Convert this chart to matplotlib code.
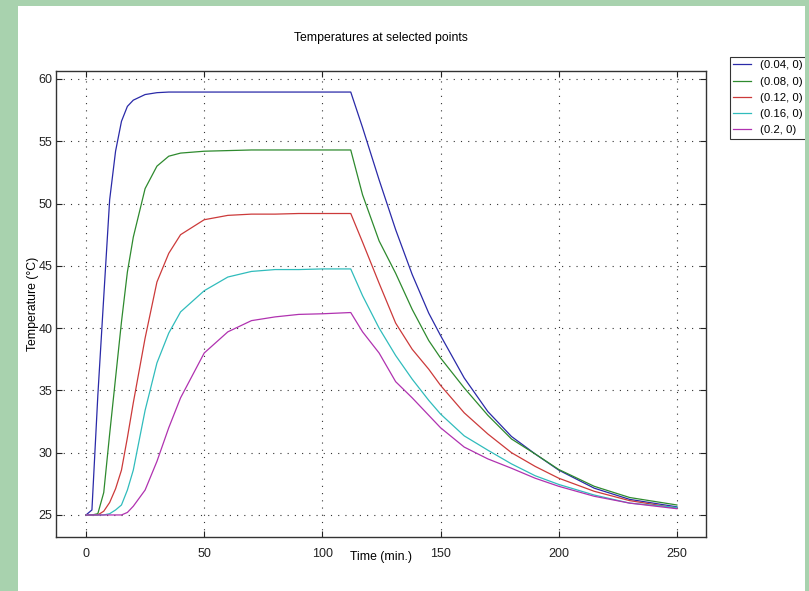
import matplotlib.pyplot as plt
from matplotlib.patches import Rectangle

# time (min.)
t = [0, 2.5, 5, 7.5, 10, 12.5, 15, 17.5, 20, 25, 30, 35, 40, 50, 60, 70, 80, 90,
     100, 112, 117, 124, 131, 138, 145, 150, 160, 170, 180, 190, 200, 215, 230, 250]

T_004 = [25.0, 25.4, 34.6, 42.5, 50.3, 54.2, 56.6, 57.8, 58.3, 58.75, 58.9, 58.95, 58.95,
         58.95, 58.95, 58.95, 58.95, 58.95, 58.95, 58.95, 56.1, 51.9, 47.9, 44.3, 41.2,
         39.4, 36.0, 33.3, 31.3, 29.9, 28.6, 27.15, 26.25, 25.65]
T_008 = [25.0, 25.0, 25.1, 26.8, 31.5, 36.0, 40.5, 44.5, 47.3, 51.2, 53.0, 53.8, 54.05,
         54.2, 54.25, 54.3, 54.3, 54.3, 54.3, 54.3, 50.7, 47.0, 44.4, 41.5, 39.0,
         37.6, 35.2, 33.0, 31.1, 29.9, 28.65, 27.3, 26.4, 25.8]
T_012 = [25.0, 25.0, 25.0, 25.3, 26.0, 27.1, 28.6, 31.2, 34.0, 39.2, 43.7, 46.0, 47.5,
         48.7, 49.05, 49.15, 49.15, 49.2, 49.2, 49.2, 46.9, 43.6, 40.4, 38.3, 36.7,
         35.4, 33.2, 31.5, 30.0, 28.9, 27.95, 26.9, 26.15, 25.55]
T_016 = [25.0, 25.0, 25.0, 25.0, 25.1, 25.4, 25.8, 27.0, 28.6, 33.4, 37.2, 39.6, 41.3,
         43.0, 44.1, 44.55, 44.7, 44.7, 44.75, 44.75, 42.6, 40.0, 37.8, 35.9, 34.2,
         33.1, 31.35, 30.2, 29.1, 28.15, 27.45, 26.6, 25.95, 25.6]
T_020 = [25.0, 25.0, 25.0, 25.0, 25.0, 25.0, 25.0, 25.2, 25.7, 27.0, 29.3, 32.0, 34.4,
         38.0, 39.7, 40.6, 40.9, 41.1, 41.15, 41.25, 39.7, 38.0, 35.7, 34.4, 33.0,
         32.0, 30.45, 29.5, 28.75, 27.95, 27.3, 26.5, 25.95, 25.5]

labels = ["(0.04, 0)", "(0.08, 0)", "(0.12, 0)", "(0.16, 0)", "(0.2, 0)"]
colors = ["#2a2aa8", "#2e8a2e", "#cc3a3a", "#30bcbc", "#b032b0"]


def main():
    plt.rcParams["font.family"] = ["Liberation Sans", "DejaVu Sans"]
    fig = plt.figure(figsize=(8.09, 5.91), dpi=100, facecolor="#a8d2ae")
    fig.patches.append(Rectangle((18 / 809, 0), 787 / 809, 585 / 591,
                                 transform=fig.transFigure, facecolor="white",
                                 edgecolor="none", zorder=-5))

    ax = fig.add_axes([56 / 809, 54 / 591, 650 / 809, 466 / 591])
    ax.set_zorder(1)
    for y, c, lab in zip([T_004, T_008, T_012, T_016, T_020], colors, labels):
        ax.plot(t, y, color=c, lw=0.9, label=lab)

    ax.set_xlim(-12.7, 262.3)
    ax.set_ylim(23.23, 60.64)
    ax.set_xticks([0, 50, 100, 150, 200, 250])
    ax.set_yticks([25, 30, 35, 40, 45, 50, 55, 60])
    ax.tick_params(direction="in", top=True, right=True, length=4, width=0.8,
                   labelsize=9, colors="#222222")
    ax.tick_params(axis="x", pad=8)
    ax.tick_params(axis="y", pad=2.5)
    ax.grid(True, color="#333333", lw=0.8, linestyle=(0, (1, 5.5)))
    for s in ax.spines.values():
        s.set_color("#333333")
        s.set_linewidth(1.0)

    ax.set_title("Temperatures at selected points", fontsize=8.8, pad=21.5)
    ax.set_xlabel("Time (min.)", fontsize=8.8)
    ax.xaxis.set_label_coords(0.5, -20 / 466)
    ax.set_ylabel("Temperature (°C)", fontsize=8.8)
    ax.yaxis.set_label_coords(-23 / 650, 0.5)
    ax.xaxis.label.set_va("center")
    ax.yaxis.label.set_va("center")

    leg = fig.legend(loc="upper left", bbox_to_anchor=(730 / 809, 534 / 591),
                     fontsize=8.2, fancybox=False, edgecolor="black",
                     handlelength=1.5, handletextpad=0.8, labelspacing=0.55,
                     borderpad=0.3, borderaxespad=0)
    leg.get_frame().set_linewidth(0.8)
    leg.set_zorder(5)

    # green slide border covers the clipped legend edge
    fig.patches.append(Rectangle((805 / 809, 0), 4 / 809, 1,
                                 transform=fig.transFigure, facecolor="#a8d2ae",
                                 edgecolor="none", zorder=10))

    fig.savefig("out.png", dpi=100, facecolor=fig.get_facecolor())


if __name__ == "__main__":
    main()
